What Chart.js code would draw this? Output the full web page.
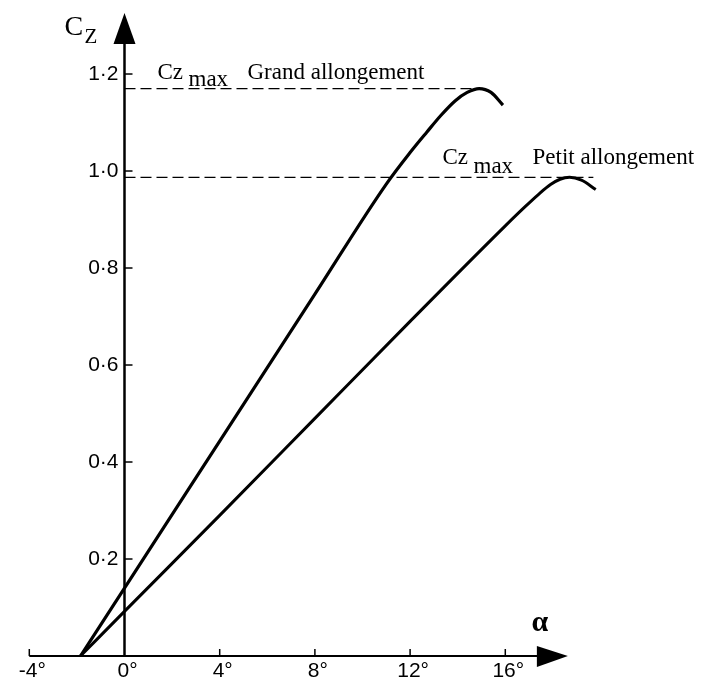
<!DOCTYPE html>
<html><head><meta charset="utf-8">
<script src="https://cdn.jsdelivr.net/npm/chart.js@4"></script>
<style>html,body{margin:0;padding:0;background:#fff}#wrap{width:701px;height:682px;position:relative}</style>
</head><body><div id="wrap"><canvas id="c" width="701" height="682"></canvas></div>
<script>
// ---- data ----
const grandAlpha = [-1.85, 0, 4, 8, 11, 12, 12.7, 13.3, 13.9, 14.4, 14.9, 15.4, 15.9];
const grandCz    = [0, 0.14, 0.443, 0.746, 0.973, 1.038, 1.08, 1.115, 1.145, 1.162, 1.17, 1.162, 1.136];
const petitAlpha = [-1.85, 0, 4, 8, 12, 16, 16.8, 17.4, 17.9, 18.3, 18.7, 19.2, 19.8];
const petitCz    = [0, 0.092, 0.29, 0.49, 0.69, 0.887, 0.925, 0.952, 0.972, 0.983, 0.987, 0.981, 0.962];
const czMaxGrand = 1.17, czMaxGrandEnd = 15.0;
const czMaxPetit = 0.987, czMaxPetitEnd = 19.7;
const xTickValues = [-4, 0, 4, 8, 12, 16];
const xTickLabels = ['-4°', '0°', '4°', '8°', '12°', '16°'];
const yTickValues = [0.2, 0.4, 0.6, 0.8, 1.0, 1.2];
const yTickLabels = ['0·2', '0·4', '0·6', '0·8', '1·0', '1·2'];
const xAxisEnd = 18.63, yAxisEnd = 1.326;

const toPts = (xs, ys) => xs.map((v, i) => ({x: v, y: ys[i]}));

const axesPlugin = {
  id: 'axesPlugin',
  beforeDatasetsDraw(chart) {
    const {ctx, scales: {x, y}} = chart;
    const x0 = x.getPixelForValue(0), y0 = y.getPixelForValue(0);
    ctx.save();
    ctx.strokeStyle = '#000'; ctx.fillStyle = '#000';
    // x axis
    const xl = x.getPixelForValue(xTickValues[0]);
    const xt = x.getPixelForValue(xAxisEnd);
    ctx.lineWidth = 2;
    ctx.beginPath(); ctx.moveTo(xl, y0); ctx.lineTo(xt - 20, y0); ctx.stroke();
    ctx.beginPath(); ctx.moveTo(xt, y0); ctx.lineTo(xt - 31, y0 - 10); ctx.lineTo(xt - 31, y0 + 11); ctx.closePath(); ctx.fill();
    ctx.lineWidth = 1.5;
    xTickValues.forEach(v => {
      if (v === 0) return;
      const px = x.getPixelForValue(v);
      ctx.beginPath(); ctx.moveTo(px, y0); ctx.lineTo(px, y0 - 7); ctx.stroke();
    });
    // y axis
    const yt = y.getPixelForValue(yAxisEnd);
    ctx.lineWidth = 2.5;
    ctx.beginPath(); ctx.moveTo(x0, y0); ctx.lineTo(x0, yt + 20); ctx.stroke();
    ctx.beginPath(); ctx.moveTo(x0, yt); ctx.lineTo(x0 - 11, yt + 31); ctx.lineTo(x0 + 11, yt + 31); ctx.closePath(); ctx.fill();
    ctx.lineWidth = 1.5;
    yTickValues.forEach(v => {
      const py = y.getPixelForValue(v);
      ctx.beginPath(); ctx.moveTo(x0, py); ctx.lineTo(x0 + 8, py); ctx.stroke();
    });
    // tick labels
    ctx.font = '21px "Liberation Sans", Arial, sans-serif';
    ctx.textAlign = 'center'; ctx.textBaseline = 'middle';
    xTickValues.forEach((v, i) => ctx.fillText(xTickLabels[i], x.getPixelForValue(v) + 3, y0 + 15));
    ctx.textAlign = 'right';
    yTickValues.forEach((v, i) => ctx.fillText(yTickLabels[i], x0 - 6, y.getPixelForValue(v)));
    // axis titles
    ctx.textAlign = 'left'; ctx.textBaseline = 'alphabetic';
    ctx.font = '28px "Liberation Serif", "Times New Roman", serif';
    ctx.fillText('C', x0 - 60, yt + 22);
    ctx.font = '21px "Liberation Serif", "Times New Roman", serif';
    ctx.fillText('Z', x0 - 40, yt + 30);
    ctx.font = 'bold 30px "Liberation Serif", "Times New Roman", serif';
    ctx.textAlign = 'center';
    ctx.fillText('α', xt - 28, y0 - 25);
    // Cz max labels
    ctx.textAlign = 'left';
    ctx.font = '23px "Liberation Serif", "Times New Roman", serif';
    const yg = y.getPixelForValue(czMaxGrand);
    ctx.fillText('Cz', x0 + 33, yg - 10);
    ctx.fillText('max', x0 + 64, yg - 3);
    ctx.fillText('Grand allongement', x0 + 123, yg - 10);
    const yp = y.getPixelForValue(czMaxPetit);
    ctx.fillText('Cz', x0 + 318, yp - 13);
    ctx.fillText('max', x0 + 349, yp - 4);
    ctx.fillText('Petit allongement', x0 + 408, yp - 13);
    ctx.restore();
  }
};

new Chart(document.getElementById('c'), {
  type: 'scatter',
  data: {
    datasets: [
      {label: 'Grand allongement', data: toPts(grandAlpha, grandCz), showLine: true, borderColor: '#000', borderWidth: 3.2, pointRadius: 0, cubicInterpolationMode: 'monotone', fill: false},
      {label: 'Petit allongement', data: toPts(petitAlpha, petitCz), showLine: true, borderColor: '#000', borderWidth: 3, pointRadius: 0, cubicInterpolationMode: 'monotone', fill: false},
      {label: 'Cz max grand', data: [{x: 0, y: czMaxGrand}, {x: czMaxGrandEnd, y: czMaxGrand}], showLine: true, borderColor: '#000', borderWidth: 1.3, borderDash: [11, 5], pointRadius: 0},
      {label: 'Cz max petit', data: [{x: 0, y: czMaxPetit}, {x: czMaxPetitEnd, y: czMaxPetit}], showLine: true, borderColor: '#000', borderWidth: 1.3, borderDash: [11, 5], pointRadius: 0}
    ]
  },
  options: {
    responsive: false,
    animation: false,
    layout: {padding: 0},
    plugins: {legend: {display: false}, tooltip: {enabled: false}},
    scales: {
      x: {type: 'linear', display: false, min: -5.231, max: 24.223},
      y: {type: 'linear', display: false, min: -0.0536, max: 1.3526}
    }
  },
  plugins: [axesPlugin]
});
</script>
</body></html>
